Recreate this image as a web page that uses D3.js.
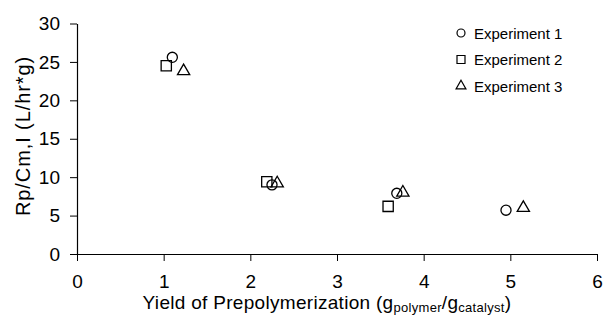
<!DOCTYPE html>
<html>
<head>
<meta charset="utf-8">
<script src="https://cdn.jsdelivr.net/npm/d3@7"></script>
<style>
  body { margin: 0; background: #fff; }
  svg { font-family: "Liberation Sans", Arial, sans-serif; }
</style>
</head>
<body>
<svg id="chart" width="607" height="321"></svg>
<script>
// data
var exp1X = [1.10, 2.25, 3.69, 4.95];
var exp1Y = [25.6, 9.0, 7.9, 5.7];
var exp2X = [1.03, 2.19, 3.59];
var exp2Y = [24.5, 9.4, 6.2];
var exp3X = [1.23, 2.31, 3.76, 5.15];
var exp3Y = [23.8, 9.2, 8.0, 6.0];
var seriesNames = ["Experiment 1", "Experiment 2", "Experiment 3"];
var xTicks = [0, 1, 2, 3, 4, 5, 6];
var yTicks = [0, 5, 10, 15, 20, 25, 30];

var svg = d3.select("#chart");

var x = d3.scaleLinear().domain([0, 6]).range([77, 597]);
var y = d3.scaleLinear().domain([0, 30]).range([254, 23.5]);

// axes
var xAxis = svg.append("g")
  .attr("transform", "translate(0," + y(0) + ")")
  .call(d3.axisBottom(x).tickValues(xTicks).tickFormat(d3.format("d"))
    .tickSize(7).tickSizeOuter(0).tickPadding(14));
var yAxis = svg.append("g")
  .attr("transform", "translate(" + x(0) + ",0)")
  .call(d3.axisLeft(y).tickValues(yTicks).tickFormat(d3.format("d"))
    .tickSize(7).tickSizeOuter(0).tickPadding(10));

[xAxis, yAxis].forEach(function (a) {
  a.attr("font-family", null).attr("font-size", null);
  a.select(".domain").attr("stroke", "#000").attr("stroke-width", 1.2);
  a.selectAll(".tick line").attr("stroke", "#000").attr("stroke-width", 1);
  a.selectAll(".tick text").attr("fill", "#000").attr("font-size", 19);
});

// axis titles
svg.append("text")
  .attr("transform", "translate(30,136) rotate(-90)")
  .attr("text-anchor", "middle")
  .attr("font-size", 20)
  .attr("letter-spacing", 0.9)
  .text("Rp/Cm,I (L/hr*g)");

var xt = svg.append("text")
  .attr("x", 327).attr("y", 309)
  .attr("text-anchor", "middle")
  .attr("font-size", 19)
  .attr("letter-spacing", 0.3);
xt.append("tspan").text("Yield of Prepolymerization (g");
xt.append("tspan").attr("dy", 3).attr("font-size", 13).text("polymer");
xt.append("tspan").attr("dy", -3).text("/g");
xt.append("tspan").attr("dy", 3).attr("font-size", 13).text("catalyst");
xt.append("tspan").attr("dy", -3).text(")");

// markers
var shapes = [d3.symbolCircle, d3.symbolSquare, d3.symbolTriangle];
var sizes = [80, 105, 65];
var legendSizes = [50, 64, 42];

function drawSeries(xs, ys, i) {
  var pts = xs.map(function (v, k) { return [v, ys[k]]; });
  svg.append("g").selectAll("path")
    .data(pts)
    .enter().append("path")
    .attr("d", d3.symbol().type(shapes[i]).size(sizes[i]))
    .attr("transform", function (d) { return "translate(" + x(d[0]) + "," + y(d[1]) + ")"; })
    .attr("fill", "none")
    .attr("stroke", "#000")
    .attr("stroke-width", 1.3);
}
drawSeries(exp1X, exp1Y, 0);
drawSeries(exp2X, exp2Y, 1);
drawSeries(exp3X, exp3Y, 2);

// legend
var legend = svg.append("g").attr("transform", "translate(461,33)");
seriesNames.forEach(function (name, i) {
  var row = legend.append("g").attr("transform", "translate(0," + (i * 26.5) + ")");
  row.append("path")
    .attr("d", d3.symbol().type(shapes[i]).size(legendSizes[i]))
    .attr("fill", "none").attr("stroke", "#000").attr("stroke-width", 1.2);
  row.append("text")
    .attr("x", 13).attr("y", 5.5)
    .attr("font-size", 15)
    .text(name);
});
</script>
</body>
</html>
